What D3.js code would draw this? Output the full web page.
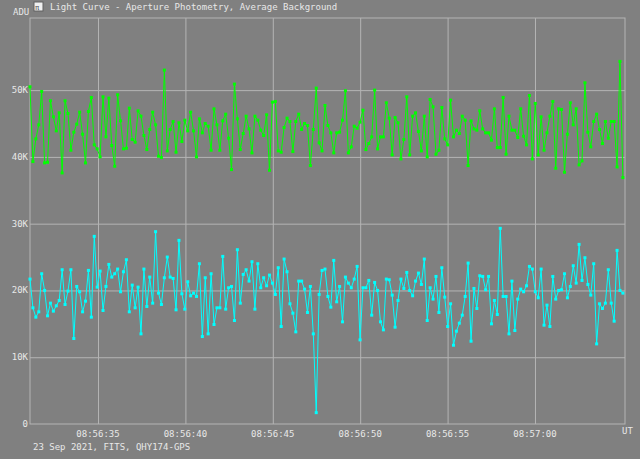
<!DOCTYPE html>
<html>
<head>
<meta charset="utf-8">
<script src="https://cdn.jsdelivr.net/npm/d3@7"></script>
<style>
  body { margin: 0; background: #808080; }
  svg { display: block; }
  text { font-family: "DejaVu Sans Mono", monospace; font-size: 9px; fill: #e8e8e8; }
</style>
</head>
<body>
<svg width="640" height="459"></svg>
<script>
// valeurs en K ADU
const green = [
  50.5,39.3,42.7,44.8,49.8,39.1,39.2,48.4,46,43.9,46.6,37.6,48.4,46.5,41,43.7,44.9,46.7,43.4,39.1,
  46.8,48.9,41.8,41.2,40,49,43,48.8,41.7,38.6,49.3,45.4,41.2,41.3,47.3,42.6,42.2,46.9,46.1,43.2,
  41.1,44.1,46.7,44.8,40.1,39.9,53,40.9,44.1,45.3,40.7,45.1,42.3,45.5,43.9,46.7,43.9,40,45.7,43.6,
  45,44.6,41,47.2,44.8,
  41,45.4,46.4,42.8,38.1,50.9,45.7,41.1,43.5,46.1,44.2,40.6,46.1,45.5,44,43.2,46.3,38,48.2,48.3,
  40.9,40.7,44.4,45.8,45.3,40.8,45.3,46.4,44.1,45,44.7,38.7,44.1,50.3,42.1,40.9,47.7,44.7,43.6,40.6,
  43.6,43.7,45.5,49.9,40.6,41.5,44.6,44.3,45.2,47,41.1,42,43,50,41.2,43,43,48.1,45.8,40.3,
  45.9,45.1,39.7,42.6,49,40.3,46.1,46.6,43.8,40.9,
  46.1,40,48.6,47.5,40.4,41,47.4,42.7,41.8,48.5,43,44,43.5,46.1,45.5,38.7,45.4,44.2,44,46.9,
  44.2,43.6,43.6,42.5,47.2,41.4,41.4,48.9,40.4,46.1,44,44,42.9,47.2,43.1,41.8,49.2,39.7,48,40.3,
  46,41,43.6,46.1,48.3,38.3,47.2,47.1,37.7,43.4,48.1,44.8,47.2,38.8,39.4,51.1,43.7,41.5,45.3,46.4,
  44.1,42,45.3,42.8,45.3,45.3,38.5,54.3,36.9
];
const cyan = [
  21.7,17.4,16,16.8,22.5,20,16.2,18.1,16.9,17.7,18.5,23.1,17.9,19.9,23.1,12.8,20.6,19.8,16.8,18.4,
  23,16,28.1,20.5,22.9,17,20.6,23.9,22,22.5,23.2,19.8,22.8,24.6,16.8,20.8,17.4,20.5,13.5,23.2,
  17.6,22,18.1,28.8,19.6,17.9,21.9,25,22,21.8,17.1,27.5,19.5,17.2,21.3,19.2,19.6,19.1,24,13.1,
  21.9,13.5,22.5,14.9,17.4,
  17.4,25.1,17.2,20.4,20.6,15.5,26.1,18.1,22.4,23.1,21.4,24.3,17.2,24,20.4,21.9,20.7,22.3,21.1,19.4,
  23.4,14.6,24.7,22.8,18,16.6,13.8,21.4,21.4,20.2,16.7,20.6,13.5,1.7,19.4,23,23.2,19.1,17.5,24.5,
  18.3,20.6,15.3,22,21.1,20.4,21.7,23.6,12.6,20.4,20.4,21.5,16.3,21.2,20,15.3,14.1,21.7,21.6,19.3,
  14.5,18.5,21.7,20.3,22.7,20,19.2,21.4,22.6,20.9,
  24.7,15.5,20.4,18.7,22.1,16.7,23.4,19,14.6,18,11.8,13.9,15.1,16.3,19.1,24.1,12.4,20.3,17.3,22.2,
  22.1,20.1,22.1,15,18.5,16.4,29.3,19.1,19.1,13.5,21.4,14,18.7,20.2,19.8,20.7,23.6,23.2,19.8,18.9,
  23.2,14.8,17.8,14.6,22.1,18.7,20,20.1,22.5,18.9,20.6,23.7,21.1,26.9,21.5,24.9,20.9,19.3,24,12,
  18,17.3,18.1,23.1,18.1,15.4,26,20,19.6
];
const yTicks = [0, 10, 20, 30, 40, 50];
const xTickLabels = ["08:56:35", "08:56:40", "08:56:45", "08:56:50", "08:56:55", "08:57:00"];

// temps en secondes après 08:56:00 (échantillonnage régulier)
const t0 = 31.11, t1 = 65.15, tLast = 65.03;

const svg = d3.select("svg");
const L = 30, R = 625, T = 18, B = 424;

const x = d3.scaleLinear().domain([t0, t1]).range([L, R]);
const y = d3.scaleLinear().domain([0, 60.8]).range([B, T]);

// grille
svg.append("rect").attr("x", L).attr("y", T).attr("width", R - L).attr("height", B - T)
  .attr("fill", "none").attr("stroke", "#b4b4b4").attr("stroke-width", 1);

svg.selectAll("line.hg").data(yTicks.slice(1)).join("line")
  .attr("class", "hg")
  .attr("x1", L).attr("x2", R)
  .attr("y1", d => y(d) + 0.5).attr("y2", d => y(d) + 0.5)
  .attr("stroke", "#b4b4b4");

const xTicks = xTickLabels.map((_, i) => 35 + i * 5);
svg.selectAll("line.vg").data(xTicks).join("line")
  .attr("class", "vg")
  .attr("x1", d => x(d) + 0.5).attr("x2", d => x(d) + 0.5)
  .attr("y1", T).attr("y2", B)
  .attr("stroke", "#b4b4b4");

// étiquettes
svg.selectAll("text.yl").data(yTicks).join("text")
  .attr("class", "yl")
  .attr("x", 28).attr("y", d => y(d) + 3)
  .attr("text-anchor", "end")
  .text(d => d === 0 ? "0" : d + "K");

svg.selectAll("text.xl").data(xTicks).join("text")
  .attr("class", "xl")
  .attr("x", d => x(d)).attr("y", 437)
  .attr("text-anchor", "middle")
  .text((d, i) => xTickLabels[i]);

svg.append("text").attr("x", 13).attr("y", 15).text("ADU");
svg.append("text").attr("x", 622).attr("y", 434).text("UT");
svg.append("text").attr("x", 33).attr("y", 450).text("23 Sep 2021, FITS, QHY174-GPS");

// titre avec icône
svg.append("rect").attr("x", 34).attr("y", 2).attr("width", 9).attr("height", 9)
  .attr("fill", "#f0f0f0").attr("stroke", "#606060");
svg.append("text").attr("x", 35).attr("y", 10).style("font-size", "7px").style("fill", "#404040").text("π");
svg.append("text").attr("x", 50).attr("y", 10).text("Light Curve - Aperture Photometry, Average Background");

// séries
function drawSeries(values, color) {
  const dt = (tLast - t0) / (values.length - 1);
  const pts = values.map((v, i) => [t0 + i * dt, v]);
  svg.append("path").datum(pts)
    .attr("fill", "none").attr("stroke", color).attr("stroke-width", 1)
    .attr("d", d3.line().x(d => x(d[0])).y(d => y(d[1])));
  svg.append("g").selectAll("rect").data(pts).join("rect")
    .attr("x", d => x(d[0]) - 1.5).attr("y", d => y(d[1]) - 1.5)
    .attr("width", 3).attr("height", 3)
    .attr("fill", color);
}
drawSeries(green, "#00ff00");
drawSeries(cyan, "#00ffff");
</script>
</body>
</html>
